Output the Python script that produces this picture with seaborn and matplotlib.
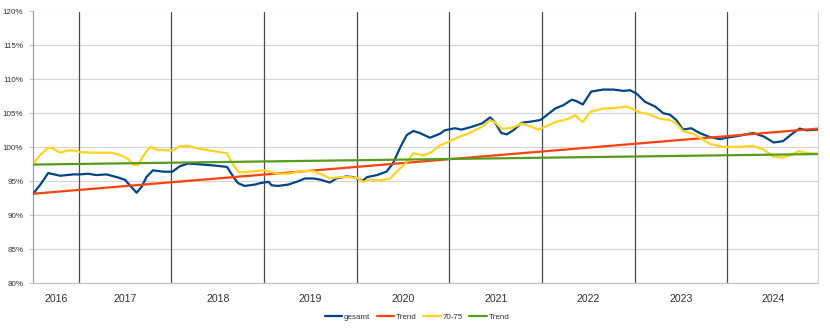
import matplotlib
matplotlib.use("Agg")
import matplotlib.pyplot as plt
import matplotlib.ticker as mticker
import pandas as pd
import seaborn as sns

# Zeitachse in Dezimaljahren, Werte in Prozent
zeit_gesamt = [
    2016.51, 2016.58, 2016.67, 2016.80, 2016.94, 2017.01, 2017.10, 2017.19, 2017.30, 2017.41,
    2017.50, 2017.55, 2017.625, 2017.68, 2017.73, 2017.80, 2017.91, 2018.01, 2018.09, 2018.18,
    2018.29, 2018.47, 2018.60, 2018.67, 2018.72, 2018.79, 2018.90, 2018.97, 2019.05, 2019.08,
    2019.15, 2019.26, 2019.37, 2019.44, 2019.53, 2019.60, 2019.71, 2019.78, 2019.89, 2019.96,
    2020.07, 2020.11, 2020.22, 2020.32, 2020.39, 2020.47, 2020.54, 2020.61, 2020.68, 2020.79,
    2020.90, 2020.95, 2021.06, 2021.13, 2021.24, 2021.35, 2021.44, 2021.49, 2021.56, 2021.62,
    2021.69, 2021.78, 2021.89, 2021.98, 2022.03, 2022.14, 2022.23, 2022.32, 2022.37, 2022.44,
    2022.53, 2022.66, 2022.77, 2022.88, 2022.95, 2023.02, 2023.11, 2023.22, 2023.31, 2023.38,
    2023.45, 2023.52, 2023.61, 2023.70, 2023.81, 2023.92, 2023.99, 2024.13, 2024.28, 2024.39,
    2024.50, 2024.60, 2024.71, 2024.78, 2024.85, 2024.975,
]
wert_gesamt = [
    93.2, 94.4, 96.2, 95.8, 96.0, 96.0, 96.1, 95.9, 96.0, 95.6,
    95.2, 94.4, 93.3, 94.2, 95.6, 96.6, 96.4, 96.4, 97.2, 97.6,
    97.5, 97.3, 97.1, 95.6, 94.7, 94.3, 94.5, 94.75, 94.9, 94.4,
    94.3, 94.5, 95.0, 95.4, 95.4, 95.25, 94.8, 95.4, 95.7, 95.6,
    95.1, 95.6, 95.9, 96.4, 97.6, 100.0, 101.8, 102.4, 102.1, 101.4,
    102.0, 102.5, 102.8, 102.6, 103.0, 103.5, 104.4, 103.7, 102.1, 101.9,
    102.5, 103.6, 103.8, 104.0, 104.5, 105.7, 106.2, 107.0, 106.8, 106.3,
    108.2, 108.5, 108.5, 108.3, 108.4, 107.9, 106.7, 106.0, 105.0, 104.8,
    104.0, 102.6, 102.8, 102.1, 101.5, 101.2, 101.4, 101.7, 102.1, 101.6,
    100.7, 100.9, 102.1, 102.75, 102.5, 102.6,
]

zeit_7075 = [
    2016.51, 2016.58, 2016.67, 2016.72, 2016.80, 2016.87, 2016.94, 2017.01, 2017.12, 2017.23,
    2017.34, 2017.44, 2017.53, 2017.59, 2017.64, 2017.70, 2017.77, 2017.84, 2017.95, 2018.02,
    2018.09, 2018.18, 2018.29, 2018.47, 2018.60, 2018.65, 2018.72, 2018.79, 2018.90, 2019.01,
    2019.06, 2019.15, 2019.26, 2019.37, 2019.44, 2019.53, 2019.64, 2019.71, 2019.82, 2019.93,
    2020.02, 2020.07, 2020.14, 2020.25, 2020.36, 2020.47, 2020.54, 2020.61, 2020.72, 2020.81,
    2020.90, 2020.99, 2021.10, 2021.20, 2021.35, 2021.44, 2021.49, 2021.56, 2021.67, 2021.78,
    2021.89, 2021.96, 2022.03, 2022.14, 2022.25, 2022.36, 2022.44, 2022.52, 2022.66, 2022.80,
    2022.91, 2023.00, 2023.06, 2023.16, 2023.27, 2023.38, 2023.45, 2023.52, 2023.63, 2023.70,
    2023.81, 2023.95, 2024.13, 2024.28, 2024.39, 2024.50, 2024.60, 2024.68, 2024.77, 2024.85,
    2024.975,
]
wert_7075 = [
    97.6, 98.8, 99.95, 99.8, 99.2, 99.5, 99.55, 99.3, 99.2, 99.2,
    99.2, 98.9, 98.3, 97.4, 97.4, 98.8, 100.05, 99.65, 99.55, 99.55,
    100.15, 100.2, 99.8, 99.4, 99.1, 97.8, 96.4, 96.3, 96.5, 96.6,
    96.4, 96.1, 96.1, 96.4, 96.5, 96.5, 95.9, 95.4, 95.6, 95.6,
    95.4, 94.9, 95.25, 95.1, 95.4, 96.9, 97.8, 99.1, 98.8, 99.3,
    100.3, 100.8, 101.5, 102.0, 103.0, 104.0, 103.7, 102.75, 102.8, 103.5,
    103.0, 102.6, 103.0, 103.7, 104.05, 104.7, 103.7, 105.2, 105.7, 105.8,
    106.0, 105.5, 105.1, 104.85, 104.2, 104.0, 103.5, 102.4, 102.0, 101.45,
    100.5, 100.05, 100.05, 100.2, 99.65, 98.6, 98.5, 98.8, 99.45, 99.15,
    99.05,
]

# lineare Trends (Anfangs- und Endwert)
zeit_trend = [2016.506, 2024.978]
trend_gesamt = [93.15, 102.75]
trend_7075 = [97.45, 99.0]

jahre = [2016, 2017, 2018, 2019, 2020, 2021, 2022, 2023, 2024]

farben = {"gesamt": "#004586", "trend_g": "#ff420e", "70-75": "#ffd320", "trend_a": "#579d1c"}

sns.set_theme(style="white")
plt.rcParams["font.family"] = ["Liberation Sans", "DejaVu Sans"]

fig = plt.figure(figsize=(8.3, 3.29), dpi=100)
ax = fig.add_axes([33 / 830, 1 - 283 / 329, (818 - 33) / 830, (283 - 11.5) / 329])

reihen = [
    ("gesamt", zeit_gesamt, wert_gesamt, "gesamt", 1.6),
    ("trend_g", zeit_trend, trend_gesamt, "Trend", 1.6),
    ("70-75", zeit_7075, wert_7075, "70-75", 1.6),
    ("trend_a", zeit_trend, trend_7075, "Trend", 1.6),
]
for key, xs, ys, label, lw in reihen:
    df = pd.DataFrame({"Zeit": xs, "Wert": ys})
    sns.lineplot(data=df, x="Zeit", y="Wert", ax=ax, color=farben[key], lw=lw,
                 label=label, legend=False, zorder=3)

x0, x1 = zeit_trend
ax.set_xlim(x0, x1)
ax.set_ylim(80, 120)
ax.set_yticks(range(80, 121, 5))
ax.yaxis.set_major_formatter(mticker.PercentFormatter(decimals=0))
ax.yaxis.grid(True, color="#d4d4d4", lw=0.8)
ax.set_axisbelow(True)

# Jahresgrenzen
for j in jahre[1:]:
    ax.axvline(j, color="#4a4a4a", lw=0.9, zorder=2)

# Jahresbeschriftung mittig im sichtbaren Abschnitt
mitten = [(max(j, x0) + min(j + 1, x1)) / 2 for j in jahre]
ax.set_xticks(mitten)
ax.set_xticklabels([str(j) for j in jahre])
ax.tick_params(axis="x", length=0, pad=8, labelsize=7.6, colors="#333333")
ax.tick_params(axis="y", length=3, width=0.8, color="#c8c8c8", pad=4,
               labelsize=5.8, labelcolor="#333333", left=True)
ax.set_xlabel("")
ax.set_ylabel("")

ax.spines["top"].set_visible(False)
ax.spines["left"].set_color("#a0a0a0")
ax.spines["left"].set_linewidth(0.9)
ax.spines["right"].set_color("#d4d4d4")
ax.spines["right"].set_linewidth(0.8)
ax.spines["bottom"].set_color("#c4c4c4")
ax.spines["bottom"].set_linewidth(0.9)
ax.spines["bottom"].set_linestyle((0, (1, 1)))

handles, labels = ax.get_legend_handles_labels()
fig.legend(handles, labels, loc="center", bbox_to_anchor=(417 / 830, 1 - 317 / 329),
           ncol=4, frameon=False, fontsize=5.8, handlelength=2.2, handletextpad=0.2,
           columnspacing=0.8, labelcolor="#333333")

fig.savefig("out.png", dpi=100)
